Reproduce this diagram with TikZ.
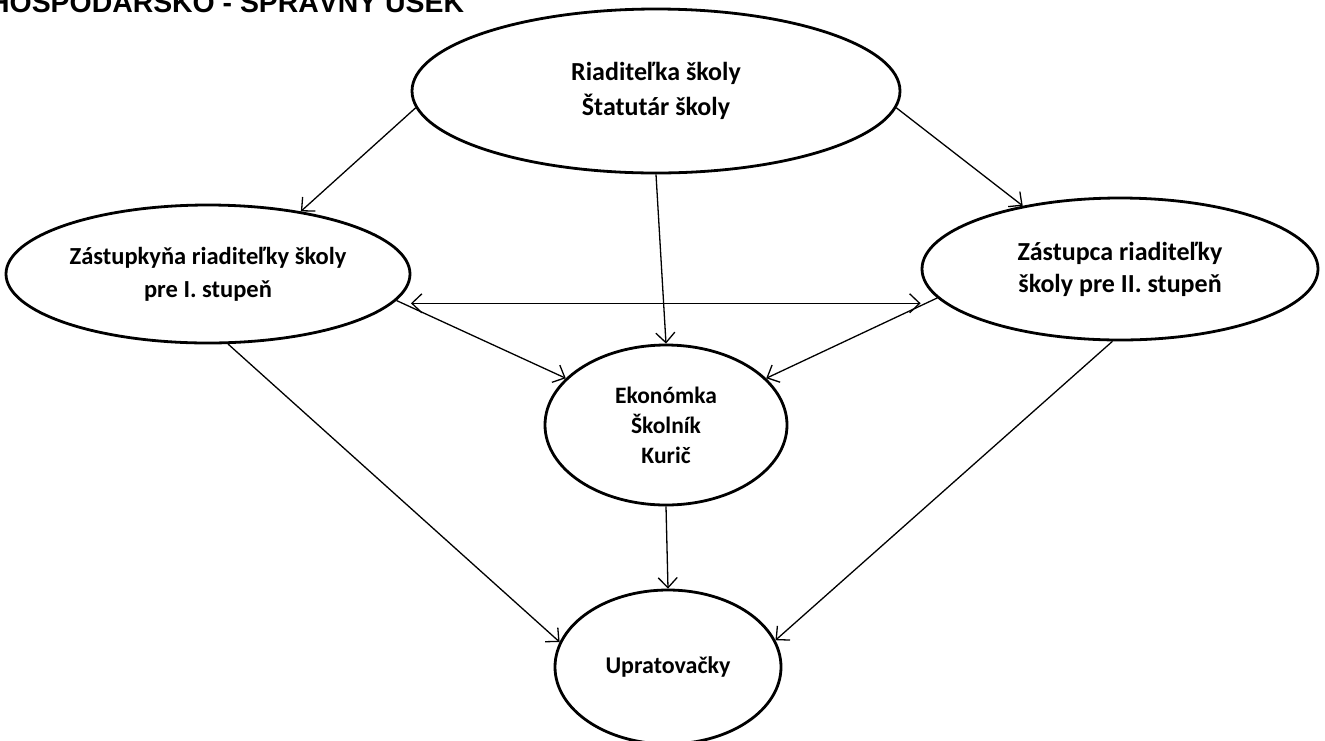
\documentclass[tikz,border=0pt]{standalone}
\usepackage{fontspec}
\setmainfont{Carlito}
\newfontfamily\titlefont{Liberation Sans}
\usetikzlibrary{shapes.geometric,arrows.meta,calc}
\begin{document}
\begin{tikzpicture}[x=1pt,y=-1pt,
  oval/.style={ellipse,draw,line width=2.8pt,inner sep=0pt,align=center},
  tipstyle/.style={},
  conn/.style={line width=1.3pt,-{Straight Barb[length=10pt,width=19pt,line width=1.3pt]}},
  biconn/.style={line width=1.3pt,{Straight Barb[length=10pt,width=19pt,line width=1.3pt]}-{Straight Barb[length=10pt,width=19pt,line width=1.3pt]}}]
\useasboundingbox (0,0) rectangle (1325,740);
\clip (0,0) rectangle (1325,740);

\node[anchor=base west,font=\titlefont\bfseries\fontsize{28.4pt}{30pt}\selectfont,inner sep=0pt] (title) at (-11,12) {HOSPODÁRSKO - SPRÁVNY ÚSEK};

\node[oval,minimum width=488pt,minimum height=164pt,font=\bfseries\fontsize{26pt}{35pt}\selectfont] (top) at (656,91) {Riaditeľka školy\\Štatutár školy};
\node[oval,minimum width=404pt,minimum height=138pt,font=\bfseries\fontsize{24.5pt}{33pt}\selectfont] (left) at (208,274) {Zástupkyňa riaditeľky školy\\pre I. stupeň};
\node[oval,minimum width=396pt,minimum height=142pt,font=\bfseries\fontsize{26pt}{32pt}\selectfont] (right) at (1120,269) {Zástupca riaditeľky\\školy pre II. stupeň};
\node[oval,minimum width=242pt,minimum height=160pt,font=\bfseries\fontsize{23.5pt}{30pt}\selectfont] (mid) at (666,425) {Ekonómka\\Školník\\Kurič};
\node[oval,minimum width=226pt,minimum height=154pt,font=\bfseries\fontsize{24pt}{30pt}\selectfont] (bot) at (668,667) {Upratovačky};

\draw[conn] (top.184) -- (left.34);
\draw[conn] (top.356) -- (right.147);
\draw[conn] (top.south) -- (mid.north);
\draw[biconn] ([xshift=18pt]left.-9) coordinate (hs) -- (hs -| right.west);
\draw[conn] (left.-8) -- (mid.155);
\draw[conn] (right.189) -- (mid.25);
\draw[conn] (left.-74) -- (bot.167);
\draw[conn] (mid.south) -- (bot.north);
\draw[conn] (right.264) -- (bot.14);
\end{tikzpicture}
\end{document}
